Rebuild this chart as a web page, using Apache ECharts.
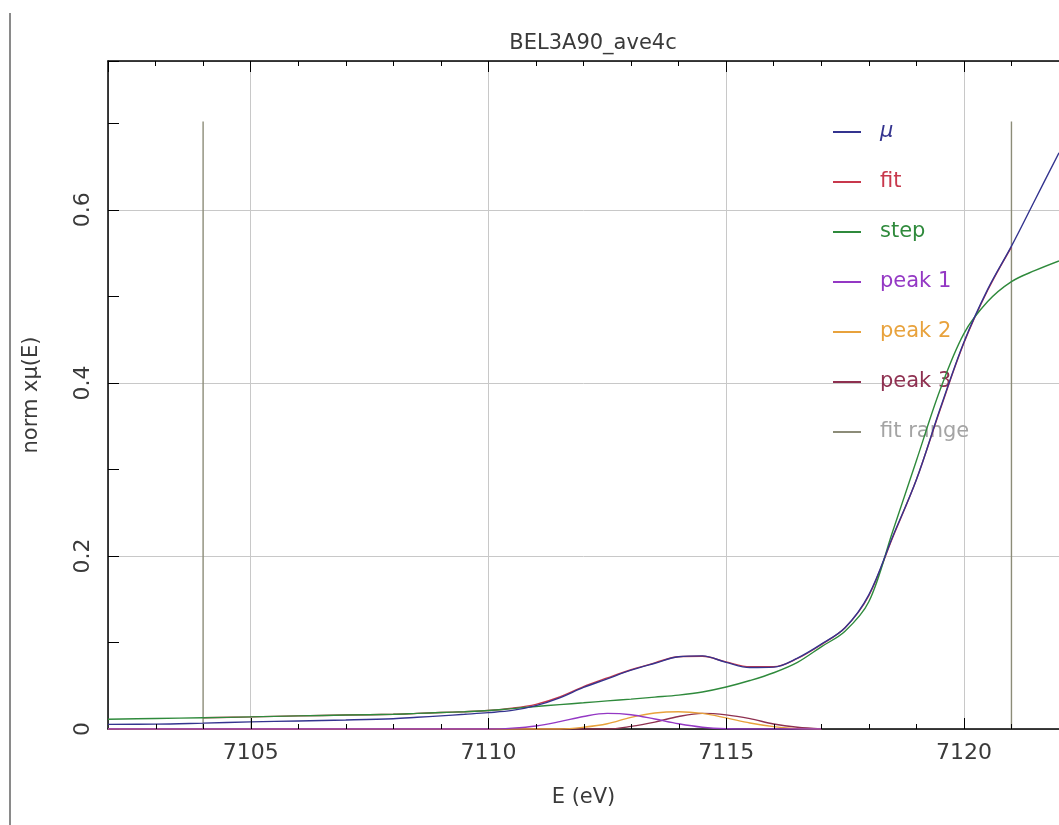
<!DOCTYPE html>
<html>
<head>
<meta charset="utf-8">
<title>BEL3A90_ave4c</title>
<script src="https://cdn.jsdelivr.net/npm/echarts@6/dist/echarts.min.js"></script>
<style>
	html, body { margin: 0; padding: 0; background: #fff; }
	#container { width: 1059px; height: 825px; }
</style>
</head>
<body>
<div id="container"></div>
<script>
// energy grid (eV)
var energy = [7102, 7103, 7104, 7105, 7106, 7107, 7108, 7108.5, 7109, 7109.5, 7110, 7110.5, 7111, 7111.5, 7112, 7112.5, 7113, 7113.5, 7114, 7114.5, 7115, 7115.5, 7116, 7116.5, 7117, 7117.5, 7118, 7118.5, 7119, 7119.5, 7120, 7120.5, 7121, 7121.5, 7122];

// norm x mu(E)
var mu = [0.0054, 0.0056, 0.0068, 0.0082, 0.0093, 0.0104, 0.0119, 0.0135, 0.0152, 0.0170, 0.0189, 0.0215, 0.0270, 0.0360, 0.0480, 0.0580, 0.0680, 0.0760, 0.0835, 0.0845, 0.0770, 0.0710, 0.0715, 0.0820, 0.0980, 0.1170, 0.1550, 0.2220, 0.2880, 0.3700, 0.4470, 0.5080, 0.5580, 0.6120, 0.6660];
var fit = [null, null, 0.0130, 0.0140, 0.0152, 0.0161, 0.0170, 0.0180, 0.0190, 0.0200, 0.0214, 0.0240, 0.0285, 0.0370, 0.0490, 0.0590, 0.0685, 0.0765, 0.0835, 0.0840, 0.0775, 0.0720, 0.0720, 0.0815, 0.0975, 0.1170, 0.1540, 0.2210, 0.2880, 0.3690, 0.4460, 0.5070, 0.5570, null, null];
var step = [0.0112, 0.0122, 0.0130, 0.0140, 0.0152, 0.0161, 0.0170, 0.0180, 0.0190, 0.0200, 0.0213, 0.0236, 0.0260, 0.0282, 0.0303, 0.0325, 0.0345, 0.0368, 0.0392, 0.0428, 0.0485, 0.0560, 0.0650, 0.0770, 0.0950, 0.1130, 0.1470, 0.2280, 0.3100, 0.3920, 0.4570, 0.4940, 0.5170, 0.5300, 0.5410];
var peak1 = [0, 0, 0, 0, 0, 0, 0, 0, 0, 0, 0, 0.0010, 0.0035, 0.0085, 0.0145, 0.0180, 0.0165, 0.0115, 0.0060, 0.0020, 0.0003, 0, 0, 0, 0, null, null, null, null, null, null, null, null, null, null];
var peak2 = [0, 0, 0, 0, 0, 0, 0, 0, 0, 0, 0, 0, 0, 0, 0.0020, 0.0060, 0.0135, 0.0185, 0.0200, 0.0180, 0.0128, 0.0070, 0.0028, 0.0004, 0, null, null, null, null, null, null, null, null, null, null];
var peak3 = [0, 0, 0, 0, 0, 0, 0, 0, 0, 0, 0, 0, 0, 0, 0, 0, 0.0030, 0.0080, 0.0145, 0.0180, 0.0163, 0.0120, 0.0058, 0.0020, 0, null, null, null, null, null, null, null, null, null, null];

// fit range markers
var fitRange = [7104, 7121];
var fitRangeTop = 0.702;

// bottom frame ticks (eV): major every 5, minor every 1
var majorTicks = [7105, 7110, 7115, 7120];
var minorTicks = [7103, 7104, 7106, 7107, 7108, 7109, 7111, 7112, 7113, 7114, 7116, 7117, 7118, 7119, 7121];

var names = ['μ', 'fit', 'step', 'peak 1', 'peak 2', 'peak 3', 'fit range'];
var colors = ['#34348f', '#c8384c', '#2f8a3c', '#9438c4', '#e8a23c', '#8e3050', '#8c8c78'];
var textColors = ['#34348f', '#c8384c', '#2f8a3c', '#9438c4', '#e8a23c', '#8e3050', '#a4a4a4'];

var FONT = 'DejaVu Sans';

function pairs(arr) {
	var out = [];
	for (var i = 0; i < energy.length; i++) {
		if (arr[i] !== null) out.push([energy[i], arr[i]]);
	}
	return out;
}

function curve(name, arr, z) {
	var c = colors[names.indexOf(name)];
	return {
		name: name,
		type: 'line',
		data: pairs(arr),
		smooth: 0.35,
		showSymbol: false,
		z: z,
		lineStyle: { color: c, width: 1.4 },
		itemStyle: { color: c }
	};
}

var echart = echarts.init(document.getElementById('container'));

var legendData = [];
for (var i = 0; i < names.length; i++) {
	legendData.push({
		name: names[i],
		textStyle: { color: textColors[i], fontStyle: i == 0 ? 'italic' : 'normal' }
	});
}

var frameLine = {
	type: 'rect',
	shape: { x: 9, y: 13, width: 2, height: 812 },
	style: { fill: '#8a8a8a' }
};

var option = {
	animation: false,
	backgroundColor: '#fff',
	title: {
		text: 'BEL3A90_ave4c',
		left: 588,
		textAlign: 'center',
		top: 28,
		textStyle: { fontFamily: FONT, fontSize: 21, fontWeight: 'normal', color: '#3a3a3a' }
	},
	legend: {
		orient: 'vertical',
		left: 828,
		top: 116,
		itemWidth: 28,
		itemHeight: 2,
		itemGap: 28,
		icon: 'rect',
		data: legendData,
		textStyle: { fontFamily: FONT, fontSize: 21, lineHeight: 22, padding: [0, 0, 0, 14] }
	},
	graphic: [frameLine],
	grid: { left: 108, top: 61, width: 960, height: 668 },
	xAxis: [{
		type: 'value',
		position: 'bottom',
		min: 7102,
		max: 7122,
		name: 'E (eV)',
		nameLocation: 'middle',
		nameGap: 58,
		nameTextStyle: { fontFamily: FONT, fontSize: 21, color: '#3a3a3a' },
		axisLine: { show: true, onZero: false, lineStyle: { color: '#000', width: 1.5 } },
		axisTick: { show: false },
		axisLabel: {
			showMinLabel: false, showMaxLabel: false, margin: 13,
			fontFamily: FONT, fontSize: 22, color: '#3a3a3a',
			formatter: function(v) { return String(v); }
		},
		splitLine: { show: true, lineStyle: { color: '#c8c8c8', width: 1 } }
	}, {
		type: 'value',
		position: 'top',
		min: 7102,
		max: 7122,
		axisLine: { show: true, onZero: false, lineStyle: { color: '#000', width: 1.5 } },
		axisTick: { show: true, inside: true, length: 11, lineStyle: { color: '#000' } },
		minorTick: { show: true, splitNumber: 5, length: 5, lineStyle: { color: '#000' } },
		axisLabel: { show: false },
		splitLine: { show: false }
	}],
	yAxis: {
		type: 'value',
		min: 0,
		max: 0.772,
		name: 'norm xμ(E)',
		nameLocation: 'middle',
		nameGap: 66,
		nameRotate: 90,
		nameTextStyle: { fontFamily: FONT, fontSize: 21, color: '#3a3a3a' },
		axisLine: { show: true, onZero: false, lineStyle: { color: '#000', width: 1.5 } },
		axisTick: { show: true, inside: true, length: 11, lineStyle: { color: '#000' } },
		minorTick: { show: true, splitNumber: 2, length: 11, lineStyle: { color: '#000' } },
		axisLabel: { showMaxLabel: false, rotate: 90, margin: 14, fontFamily: FONT, fontSize: 22, color: '#3a3a3a' },
		splitLine: { show: true, lineStyle: { color: '#c8c8c8', width: 1 } }
	},
	series: [
		{
			name: 'fit range',
			type: 'line',
			data: [[fitRange[0], 0], [fitRange[0], fitRangeTop], [(fitRange[0] + fitRange[1]) / 2, '-'], [fitRange[1], fitRangeTop], [fitRange[1], 0]],
			showSymbol: false,
			connectNulls: false,
			z: 2,
			lineStyle: { color: colors[6], width: 1.4 },
			itemStyle: { color: colors[6] }
		},
		curve('peak 3', peak3, 3),
		curve('peak 2', peak2, 4),
		curve('peak 1', peak1, 5),
		curve('fit', fit, 6),
		curve('step', step, 7),
		curve('μ', mu, 8)
	]
};

echart.setOption(option);

/*bottom axis ticks, placed through the x scale*/
function tickMark(v, len) {
	var x = Math.round(echart.convertToPixel({ xAxisIndex: 0 }, v)) + 0.5;
	var y = echart.convertToPixel({ yAxisIndex: 0 }, 0);
	return {
		type: 'line',
		z: 100,
		shape: { x1: x, y1: y, x2: x, y2: y - len },
		style: { stroke: '#000', lineWidth: 1 }
	};
}

var marks = [frameLine];
for (var j = 0; j < majorTicks.length; j++) marks.push(tickMark(majorTicks[j], 11));
for (var k = 0; k < minorTicks.length; k++) marks.push(tickMark(minorTicks[k], 5));
echart.setOption({ graphic: marks });
</script>
</body>
</html>
